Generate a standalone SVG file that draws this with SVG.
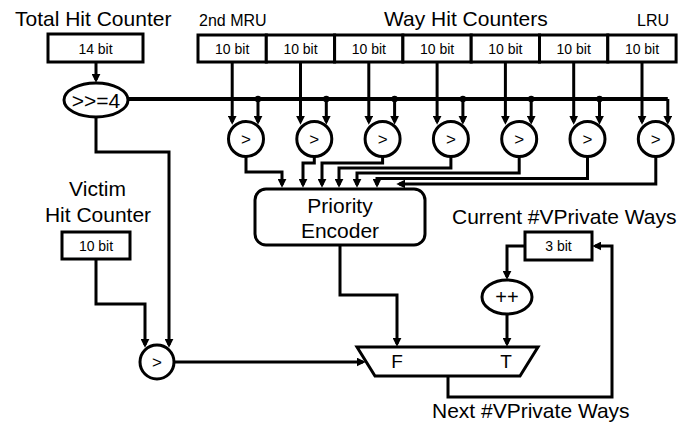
<svg xmlns="http://www.w3.org/2000/svg" width="682" height="425" viewBox="0 0 682 425">
<style>
.t{font-family:"Liberation Sans",Arial,sans-serif;fill:#000}
.big{font-size:21px}
.sm{font-size:14px}
.box{fill:#fff;stroke:#000;stroke-width:3}
.ln{fill:none;stroke:#000;stroke-width:3;stroke-linejoin:miter}
.bus{fill:none;stroke:#000;stroke-width:4}
.cmp{fill:#fff;stroke:#000;stroke-width:3}
</style>
<defs>
<marker id="ah" viewBox="0 0 10 10" refX="7" refY="5" markerWidth="9" markerHeight="9" markerUnits="userSpaceOnUse" orient="auto">
<path d="M0,0 L10,5 L0,10 z" fill="#000"/>
</marker>
</defs>
<rect width="682" height="425" fill="#fff"/>

<g id="connectors">
<!-- total counter to shifter -->
<polyline class="ln" points="96,62 96,80" marker-end="url(#ah)"/>
<!-- bus -->
<polyline class="bus" points="128,99 667.8,99"/>
<polyline class="ln" points="667.8,99 667.8,122" marker-end="url(#ah)"/>
<g fill="#000">
<circle cx="258" cy="99" r="3.2"/>
<circle cx="326.3" cy="99" r="3.2"/>
<circle cx="394.6" cy="99" r="3.2"/>
<circle cx="462.9" cy="99" r="3.2"/>
<circle cx="531.2" cy="99" r="3.2"/>
<circle cx="599.5" cy="99" r="3.2"/>
</g>
<!-- right inputs -->
<polyline class="ln" points="258,99 258,122" marker-end="url(#ah)"/>
<polyline class="ln" points="326.3,99 326.3,122" marker-end="url(#ah)"/>
<polyline class="ln" points="394.6,99 394.6,122" marker-end="url(#ah)"/>
<polyline class="ln" points="462.9,99 462.9,122" marker-end="url(#ah)"/>
<polyline class="ln" points="531.2,99 531.2,122" marker-end="url(#ah)"/>
<polyline class="ln" points="599.5,99 599.5,122" marker-end="url(#ah)"/>
<!-- left inputs from way counters -->
<polyline class="ln" points="232.2,62 232.2,122" marker-end="url(#ah)"/>
<polyline class="ln" points="300.5,62 300.5,122" marker-end="url(#ah)"/>
<polyline class="ln" points="368.8,62 368.8,122" marker-end="url(#ah)"/>
<polyline class="ln" points="437.1,62 437.1,122" marker-end="url(#ah)"/>
<polyline class="ln" points="505.4,62 505.4,122" marker-end="url(#ah)"/>
<polyline class="ln" points="573.7,62 573.7,122" marker-end="url(#ah)"/>
<polyline class="ln" points="642,62 642,122" marker-end="url(#ah)"/>
<!-- comparator outputs to priority encoder -->
<polyline class="ln" points="246,156 246,172 282,172 282,185" marker-end="url(#ah)"/>
<polyline class="ln" points="314.3,156 314.3,163 303,163 303,185" marker-end="url(#ah)"/>
<polyline class="ln" points="382.6,156 382.6,163 322,163 322,185" marker-end="url(#ah)"/>
<polyline class="ln" points="450.9,156 450.9,168 339,168 339,185" marker-end="url(#ah)"/>
<polyline class="ln" points="519.2,156 519.2,173 357,173 357,185" marker-end="url(#ah)"/>
<polyline class="ln" points="587.5,156 587.5,178.5 377,178.5 377,185" marker-end="url(#ah)"/>
<polyline class="ln" points="655.8,156 655.8,184 399,184" marker-end="url(#ah)"/>
<!-- shifter to victim comparator -->
<polyline class="ln" points="96,117 96,152 169,152 169,345" marker-end="url(#ah)"/>
<polyline class="ln" points="96,259 96,304 145,304 145,345" marker-end="url(#ah)"/>
<!-- victim comparator to mux -->
<polyline class="ln" points="174,362 363,362" marker-end="url(#ah)"/>
<!-- encoder to mux -->
<polyline class="ln" points="340,245 340,295 397,295 397,344" marker-end="url(#ah)"/>
<!-- current ways to ++ -->
<polyline class="ln" points="525,246 507,246 507,277" marker-end="url(#ah)"/>
<polyline class="ln" points="507,314 507,344" marker-end="url(#ah)"/>
<!-- mux output loop -->
<polyline class="ln" points="448,376 448,397 612,397 612,246 595,246" marker-end="url(#ah)"/>
</g>

<g id="total-hit-counter">
<text class="t big" x="15" y="26">Total Hit Counter</text>
<rect class="box" x="48" y="34" width="95" height="28"/>
<text class="t sm" x="95.5" y="54" text-anchor="middle">14 bit</text>
</g>

<g id="shifter">
<ellipse class="cmp" cx="96" cy="100" rx="32" ry="17"/>
<text class="t big" x="96" y="108" text-anchor="middle">&gt;&gt;=4</text>
</g>

<g id="way-hit-counters">
<text class="t big" x="384" y="26">Way Hit Counters</text>
<text class="t" font-size="16" x="199" y="26">2nd MRU</text>
<text class="t" font-size="16" x="637" y="26">LRU</text>
<rect class="box" x="198" y="35" width="68.3" height="27"/>
<rect class="box" x="266.3" y="35" width="68.3" height="27"/>
<rect class="box" x="334.6" y="35" width="68.3" height="27"/>
<rect class="box" x="402.9" y="35" width="68.3" height="27"/>
<rect class="box" x="471.2" y="35" width="68.3" height="27"/>
<rect class="box" x="539.5" y="35" width="68.3" height="27"/>
<rect class="box" x="607.8" y="35" width="68.3" height="27"/>
<g class="t sm" text-anchor="middle">
<text x="232.2" y="54">10 bit</text>
<text x="300.5" y="54">10 bit</text>
<text x="368.8" y="54">10 bit</text>
<text x="437.1" y="54">10 bit</text>
<text x="505.4" y="54">10 bit</text>
<text x="573.7" y="54">10 bit</text>
<text x="642" y="54">10 bit</text>
</g>
</g>

<g id="comparators">
<circle class="cmp" cx="246" cy="139" r="17.5"/>
<circle class="cmp" cx="314.3" cy="139" r="17.5"/>
<circle class="cmp" cx="382.6" cy="139" r="17.5"/>
<circle class="cmp" cx="450.9" cy="139" r="17.5"/>
<circle class="cmp" cx="519.2" cy="139" r="17.5"/>
<circle class="cmp" cx="587.5" cy="139" r="17.5"/>
<circle class="cmp" cx="655.8" cy="139" r="17.5"/>
<g class="t" font-size="17" text-anchor="middle">
<text x="246" y="145">&gt;</text>
<text x="314.3" y="145">&gt;</text>
<text x="382.6" y="145">&gt;</text>
<text x="450.9" y="145">&gt;</text>
<text x="519.2" y="145">&gt;</text>
<text x="587.5" y="145">&gt;</text>
<text x="655.8" y="145">&gt;</text>
</g>
</g>

<g id="priority-encoder">
<rect class="box" x="255" y="189" width="170" height="56" rx="11"/>
<text class="t big" x="340" y="213" text-anchor="middle">Priority</text>
<text class="t big" x="340" y="238" text-anchor="middle">Encoder</text>
</g>

<g id="victim-hit-counter">
<text class="t big" x="97.5" y="196" text-anchor="middle">Victim</text>
<text class="t big" x="98" y="222" text-anchor="middle">Hit Counter</text>
<rect class="box" x="62" y="232" width="68" height="27"/>
<text class="t sm" x="96" y="251" text-anchor="middle">10 bit</text>
</g>

<g id="victim-comparator">
<circle class="cmp" cx="157" cy="362" r="17"/>
<text class="t" font-size="17" x="157" y="368" text-anchor="middle">&gt;</text>
</g>

<g id="current-ways">
<text class="t big" x="452" y="224">Current #VPrivate Ways</text>
<rect class="box" x="525" y="232" width="67" height="28"/>
<text class="t sm" x="558.5" y="251" text-anchor="middle">3 bit</text>
</g>

<g id="increment">
<ellipse class="cmp" cx="507" cy="297" rx="25" ry="17"/>
<text class="t" font-size="20" x="507" y="304" text-anchor="middle">++</text>
</g>

<g id="mux">
<polygon class="box" points="357,347 538,347 520,376 375,376"/>
<text class="t" font-size="19" x="397" y="368" text-anchor="middle">F</text>
<text class="t" font-size="19" x="506" y="368" text-anchor="middle">T</text>
</g>

<g id="next-ways">
<text class="t big" x="432" y="418">Next #VPrivate Ways</text>
</g>
</svg>
